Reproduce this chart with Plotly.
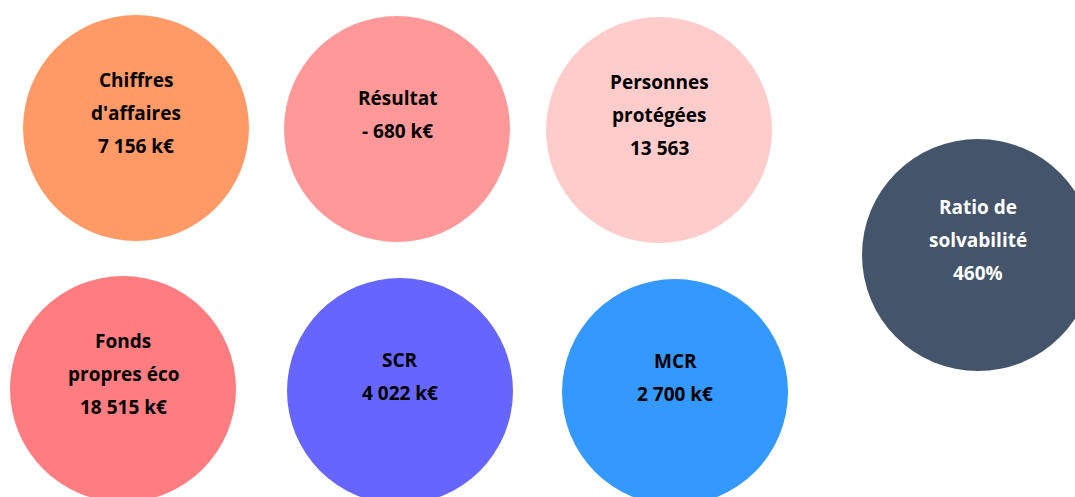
import plotly.graph_objects as go

# Data
titles = ["Chiffres<br>d'affaires", "Résultat", "Personnes<br>protégées", "Ratio de<br>solvabilité",
          "Fonds<br>propres éco", "SCR", "MCR"]
values = ["7 156 k€", "- 680 k€", "13 563", "460%", "18 515 k€", "4 022 k€", "2 700 k€"]

# Layout (pixel-space positions of bubbles)
cx = [136, 397, 659, 978, 123, 400, 675]
cy = [128, 129, 130, 255, 389, 391, 392]
rad = [113, 113, 113, 116, 113, 113, 113]
fills = ["#FF9966", "#FF9999", "#FFCCCC", "#44546A", "#FF7C80", "#6666FF", "#3399FF"]
txtcol = ["#000000", "#000000", "#000000", "#FFFFFF", "#000000", "#000000", "#000000"]

W, H = 1075, 497
fig = go.Figure()
fig.add_trace(go.Scatter(x=cx, y=cy, mode="markers", marker=dict(size=1, opacity=0),
                         hoverinfo="skip", showlegend=False))

LINE = 33
for i in range(len(titles)):
    fig.add_shape(type="circle", xref="x", yref="y",
                  x0=cx[i] - rad[i], x1=cx[i] + rad[i],
                  y0=cy[i] - rad[i], y1=cy[i] + rad[i],
                  fillcolor=fills[i], line=dict(width=0), layer="below")
    lines = titles[i].split("<br>") + [values[i]]
    n = len(lines)
    for j, ln in enumerate(lines):
        y = cy[i] - 15 + (j - (n - 1) / 2) * LINE
        fig.add_annotation(x=cx[i], y=y, xref="x", yref="y", text="<b>" + ln + "</b>",
                           showarrow=False, xanchor="center", yanchor="middle",
                           font=dict(family="Open Sans, Lato, sans-serif", size=19, color=txtcol[i]))

fig.update_layout(
    width=W, height=H,
    margin=dict(l=0, r=0, t=0, b=0),
    paper_bgcolor="white", plot_bgcolor="white",
    xaxis=dict(range=[0, W], visible=False, fixedrange=True),
    yaxis=dict(range=[H, 0], visible=False, fixedrange=True),
    showlegend=False,
)
fig.write_html("out.html", config={"displayModeBar": False})

# remove default page margin so the figure sits at the window's corner
with open("out.html", "r", encoding="utf-8") as f:
    html = f.read()
html = html.replace("<head>", "<head><style>html,body{margin:0;padding:0;overflow:hidden;}</style>", 1)
with open("out.html", "w", encoding="utf-8") as f:
    f.write(html)
